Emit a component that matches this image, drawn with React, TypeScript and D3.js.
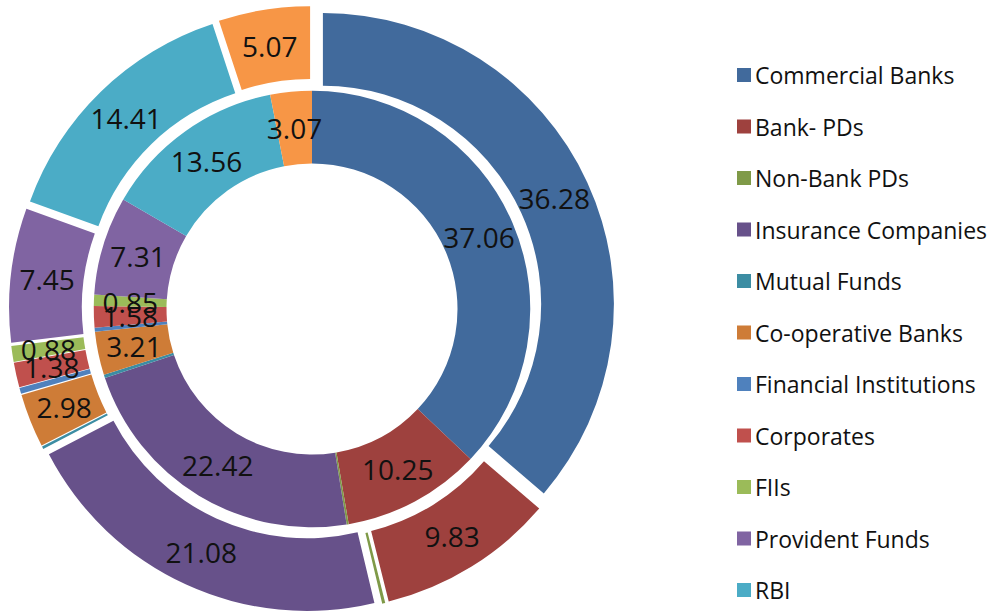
import React, { useEffect, useRef } from 'react';
import * as d3 from 'd3';

// holders of government securities (%), inner ring and outer ring
const categories = [
  'Commercial Banks',
  'Bank- PDs',
  'Non-Bank PDs',
  'Insurance Companies',
  'Mutual Funds',
  'Co-operative Banks',
  'Financial Institutions',
  'Corporates',
  'FIIs',
  'Provident Funds',
  'RBI',
  'Others',
];
const innerValues = [37.06, 10.25, 0.15, 22.42, 0.25, 3.21, 0.29, 1.58, 0.85, 7.31, 13.56, 3.07];
const outerValues = [36.28, 9.83, 0.17, 21.08, 0.14, 2.98, 0.33, 1.38, 0.88, 7.45, 14.41, 5.07];
const colors = [
  '#416A9C', '#9E413E', '#7F9A48', '#67518A', '#3C8DA3', '#CE7C37',
  '#4F81BD', '#C0504D', '#9BBB59', '#8064A2', '#4BACC6', '#F79646',
];

const WIDTH = 1000;
const HEIGHT = 612;

export default function App() {
  const ref = useRef<SVGSVGElement>(null);

  useEffect(() => {
    const svg = d3.select(ref.current);
    svg.selectAll('*').remove();

    const cx = 312;
    const cy = 309;
    const outerR = 291;
    const hole = outerR * 0.5;
    const ringW = (outerR - hole) / 2;
    const explode = 12;

    const pie = d3.pie<number>().sort(null).value(d => d);

    const rings = [
      { values: innerValues, r0: hole, r1: hole + ringW, off: 0 },
      { values: outerValues, r0: hole + ringW, r1: outerR, off: explode },
    ];

    const g = svg.append('g').attr('transform', `translate(${cx},${cy})`);

    rings.forEach(ring => {
      const arc = d3.arc<d3.PieArcDatum<number>>().innerRadius(ring.r0).outerRadius(ring.r1);
      const slices = pie(ring.values);

      // shift each slice along its bisector (exploded outer ring)
      const shift = (d: d3.PieArcDatum<number>) => {
        const a = (d.startAngle + d.endAngle) / 2;
        return [Math.sin(a) * ring.off, -Math.cos(a) * ring.off];
      };

      const sg = g.append('g');
      sg.selectAll('path')
        .data(slices)
        .enter().append('path')
        .attr('d', arc)
        .attr('fill', d => colors[d.index])
        .attr('transform', d => `translate(${shift(d).join(',')})`);

      sg.selectAll('text')
        .data(slices.filter(d => d.value >= 0.5))
        .enter().append('text')
        .attr('transform', d => {
          const [x, y] = arc.centroid(d);
          const [sx, sy] = shift(d);
          return `translate(${x + sx},${y + sy})`;
        })
        .attr('text-anchor', 'middle')
        .attr('dominant-baseline', 'central')
        .style('font-family', '"Open Sans", sans-serif')
        .style('font-size', '28px')
        .attr('fill', '#111')
        .text(d => d.value.toFixed(2));
    });

    // legend
    const legendY = d3.scalePoint<string>()
      .domain(categories)
      .range([75, 75 + 51.5 * (categories.length - 1)]);

    const legend = svg.append('g');
    const items = legend.selectAll('g')
      .data(categories.filter(c => (legendY(c) as number) < HEIGHT - 10))
      .enter().append('g')
      .attr('transform', c => `translate(737,${legendY(c)})`);

    items.append('rect')
      .attr('x', 0)
      .attr('y', -7)
      .attr('width', 14)
      .attr('height', 14)
      .attr('fill', c => colors[categories.indexOf(c)]);

    items.append('text')
      .attr('x', 18)
      .attr('y', 0)
      .attr('dominant-baseline', 'central')
      .style('font-family', '"Open Sans", sans-serif')
      .style('font-size', '23px')
      .attr('fill', '#111')
      .text(c => c);
  }, []);

  return (
    <div style={{ position: 'absolute', left: 0, top: 0 }}>
      <svg ref={ref} width={WIDTH} height={HEIGHT} style={{ display: 'block', background: '#fff' }} />
    </div>
  );
}
